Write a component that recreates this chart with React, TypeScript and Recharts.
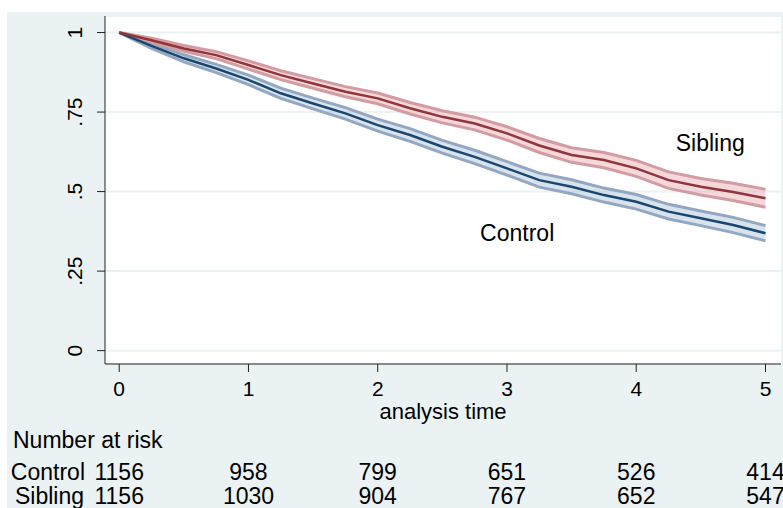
import React from 'react';
import { ComposedChart, Line, Area, XAxis, YAxis, CartesianGrid, ReferenceDot } from 'recharts';

const times = [0, 0.25, 0.5, 0.75, 1, 1.25, 1.5, 1.75, 2, 2.25, 2.5, 2.75, 3, 3.25, 3.5, 3.75, 4, 4.25, 4.5, 4.75, 5];

const siblingSurv = [1, 0.976, 0.95, 0.929, 0.898, 0.866, 0.84, 0.814, 0.793, 0.762, 0.735, 0.714, 0.683, 0.645, 0.615, 0.599, 0.573, 0.536, 0.515, 0.499, 0.479];
const siblingUpper = [1, 0.982, 0.959, 0.94, 0.911, 0.88, 0.855, 0.83, 0.81, 0.78, 0.754, 0.734, 0.704, 0.667, 0.638, 0.623, 0.598, 0.562, 0.541, 0.526, 0.507];
const siblingLower = [1, 0.97, 0.941, 0.918, 0.885, 0.852, 0.825, 0.798, 0.776, 0.744, 0.716, 0.694, 0.662, 0.623, 0.592, 0.575, 0.548, 0.51, 0.489, 0.472, 0.451];

const controlSurv = [1, 0.958, 0.919, 0.887, 0.851, 0.809, 0.777, 0.746, 0.709, 0.678, 0.641, 0.609, 0.573, 0.536, 0.515, 0.489, 0.468, 0.437, 0.416, 0.395, 0.369];
const controlUpper = [1, 0.966, 0.93, 0.9, 0.866, 0.825, 0.794, 0.764, 0.728, 0.698, 0.661, 0.63, 0.594, 0.558, 0.537, 0.511, 0.491, 0.46, 0.439, 0.419, 0.393];
const controlLower = [1, 0.95, 0.908, 0.874, 0.836, 0.793, 0.76, 0.728, 0.69, 0.658, 0.621, 0.588, 0.552, 0.514, 0.493, 0.467, 0.445, 0.414, 0.393, 0.371, 0.345];

const xTicks = [0, 1, 2, 3, 4, 5];
const yTicks = [0, 0.25, 0.5, 0.75, 1];

const controlAtRisk = [1156, 958, 799, 651, 526, 414];
const siblingAtRisk = [1156, 1030, 904, 767, 652, 547];

const FONT = '"Liberation Sans", Arial, Helvetica, sans-serif';
const BG = '#EAF2F3';
const TXT = 23;

const data = times.map((t, i) => ({
  t,
  sibling: siblingSurv[i],
  sibHi: siblingUpper[i],
  sibLo: siblingLower[i],
  sibBand: [siblingLower[i], siblingUpper[i]],
  control: controlSurv[i],
  ctlHi: controlUpper[i],
  ctlLo: controlLower[i],
  ctlBand: [controlLower[i], controlUpper[i]],
}));

const fmtY = (v: number) => (v === 0 ? '0' : v === 1 ? '1' : String(v).replace(/^0/, ''));

const SurvTick = (props: any) => {
  const { x, y, payload } = props;
  return (
    <text
      x={x - 13}
      y={y}
      transform={`rotate(-90 ${x - 13} ${y})`}
      textAnchor="middle"
      fontFamily={FONT}
      fontSize={21}
      fill="#000"
    >
      {fmtY(payload.value)}
    </text>
  );
};

const TimeTick = (props: any) => {
  const { x, y, payload } = props;
  const k = xTicks.indexOf(payload.value);
  const common = { textAnchor: 'middle' as const, fontFamily: FONT, fill: '#000' };
  return (
    <g>
      <text x={x} y={y + 22} fontSize={21} {...common}>{payload.value}</text>
      <text x={x} y={y + 106} fontSize={TXT} {...common}>{controlAtRisk[k]}</text>
      <text x={x} y={y + 130} fontSize={TXT} {...common}>{siblingAtRisk[k]}</text>
    </g>
  );
};

export default function App() {
  return (
    <div style={{ position: 'absolute', left: 0, top: 0, width: 783, height: 508, background: '#fff', overflow: 'hidden' }}>
      <div style={{ position: 'absolute', left: 7, top: 12, right: 0, bottom: 0, background: BG }} />
      <div style={{ position: 'absolute', left: 0, top: 0 }}>
        <ComposedChart
          width={783}
          height={508}
          data={data}
          margin={{ top: 16, right: 2, bottom: 84, left: 0 }}
        >
          <CartesianGrid vertical={false} stroke={BG} strokeWidth={2} fill="#fff" />
          <XAxis
            dataKey="t"
            type="number"
            domain={[-0.11, 5.12]}
            ticks={xTicks}
            interval={0}
            allowDataOverflow
            height={60}
            tickSize={8}
            stroke="#222"
            tick={<TimeTick />}
            label={{ value: 'analysis time', position: 'insideBottom', offset: 5, fontFamily: FONT, fontSize: 22, fill: '#000' }}
          />
          <YAxis
            type="number"
            domain={[-0.042, 1.052]}
            ticks={yTicks}
            interval={0}
            allowDataOverflow
            width={105}
            tickSize={8}
            stroke="#222"
            tick={<SurvTick />}
          />
          <Area dataKey="ctlBand" type="linear" stroke="none" fill="#A9C0DA" fillOpacity={0.45} isAnimationActive={false} />
          <Area dataKey="sibBand" type="linear" stroke="none" fill="#E8A9AE" fillOpacity={0.45} isAnimationActive={false} />
          <Line dataKey="ctlHi" type="linear" stroke="#93A8C0" strokeWidth={3} dot={false} isAnimationActive={false} />
          <Line dataKey="ctlLo" type="linear" stroke="#93A8C0" strokeWidth={3} dot={false} isAnimationActive={false} />
          <Line dataKey="sibHi" type="linear" stroke="#D39BA2" strokeWidth={3} dot={false} isAnimationActive={false} />
          <Line dataKey="sibLo" type="linear" stroke="#D39BA2" strokeWidth={3} dot={false} isAnimationActive={false} />
          <Line dataKey="control" type="linear" stroke="#1A476F" strokeWidth={2.5} dot={false} isAnimationActive={false} />
          <Line dataKey="sibling" type="linear" stroke="#90353B" strokeWidth={2.5} dot={false} isAnimationActive={false} />
          <ReferenceDot
            x={4.573}
            y={0.652}
            r={0}
            fill="none"
            stroke="none"
            label={{ value: 'Sibling', position: 'center', fontFamily: FONT, fontSize: TXT, fill: '#000' }}
          />
          <ReferenceDot
            x={3.079}
            y={0.369}
            r={0}
            fill="none"
            stroke="none"
            label={{ value: 'Control', position: 'center', fontFamily: FONT, fontSize: TXT, fill: '#000' }}
          />
        </ComposedChart>
      </div>
      <svg width={783} height={508} style={{ position: 'absolute', left: 0, top: 0, pointerEvents: 'none' }}>
        <g fontFamily={FONT} fontSize={TXT} fill="#000">
          <text x={13} y={448}>Number at risk</text>
          <text x={85} y={480} textAnchor="end">Control</text>
          <text x={84} y={504} textAnchor="end">Sibling</text>
        </g>
      </svg>
    </div>
  );
}
